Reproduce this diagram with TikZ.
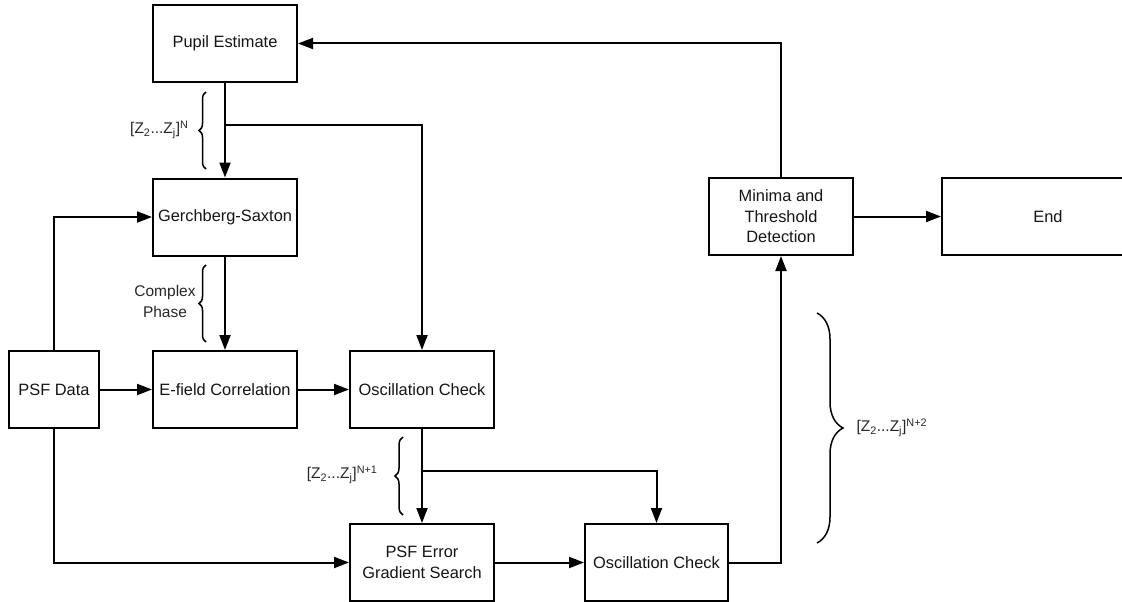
\documentclass[tikz,border=0pt]{standalone}
\usepackage{fontspec}
\setmainfont{Liberation Sans}
\usetikzlibrary{arrows.meta,decorations.pathreplacing,calc}
\begin{document}
\begin{tikzpicture}[x=1pt,y=-1pt,
  box/.style={draw,line width=2pt,minimum width=144pt,minimum height=77pt,inner sep=0pt,align=center,
    font=\fontsize{16.4}{20.5}\selectfont,text=black!92},
  arr/.style={line width=2pt,-{Triangle[length=15pt,width=11pt]}},
  ln/.style={line width=2pt},
  brc/.style={line width=1.5pt,decorate,decoration={brace,amplitude=#1}},
  lbl/.style={font=\fontsize{15.5}{21}\selectfont,text=black!85,align=center}]
\useasboundingbox (0,0) rectangle (1122,602);
\clip (0,0) rectangle (1122,602);
% nodes
\node[box] (pupil) at (225,43.5) {Pupil Estimate};
\node[box] (gs) at (225,217) {Gerchberg-Saxton};
\node[box,minimum width=90pt] (psf) at (54,389.5) {PSF Data};
\node[box] (ef) at (225,389.5) {E-field Correlation};
\node[box] (osc1) at (422,389.5) {Oscillation Check};
\node[box] (pge) at (422,562.5) {PSF Error\\Gradient Search};
\node[box,minimum width=143pt] (osc2) at (656.5,562.5) {Oscillation Check};
\node[box] (mtd) at (781,216.5) {Minima and\\Threshold\\Detection};
\node[box,minimum width=212pt,text width=212pt] (end) at (1048,216.5) {End};
% junctions
\coordinate (b1) at (225,125);
\coordinate (b2) at (422,471);
% connectors
\draw[arr] (pupil.south) -- (gs.north);
\draw[arr] (b1) -| (osc1.north);
\draw[arr] (psf.north) |- (gs.west);
\draw[arr] (gs.south) -- (ef.north);
\draw[arr] (psf.east) -- (ef.west);
\draw[arr] (ef.east) -- (osc1.west);
\draw[arr] (osc1.south) -- (pge.north);
\draw[arr] (b2) -| (osc2.north);
\draw[arr] (psf.south) |- (pge.west);
\draw[arr] (pge.east) -- (osc2.west);
\draw[arr] (osc2.east) -| (mtd.south);
\draw[arr] (mtd.north) |- (pupil.east);
\draw[arr] (mtd.east) -- (end.west);
% braces
\coordinate (br1a) at (206,169);
\coordinate (br1b) at (206,92);
\draw[brc=7pt] (br1a) -- (br1b);
\node[lbl,anchor=east] (l1) at (192,130) {[Z\textsubscript{2}...Z\textsubscript{j}]\textsuperscript{N}};
\coordinate (br2a) at (206,342);
\coordinate (br2b) at (206,265);
\draw[brc=7pt] (br2a) -- (br2b);
\node[lbl] (l2) at (165,301) {Complex\\Phase};
\coordinate (br3a) at (403,515);
\coordinate (br3b) at (403,437);
\draw[brc=8pt] (br3a) -- (br3b);
\node[lbl,anchor=east] (l3) at (381,475) {[Z\textsubscript{2}...Z\textsubscript{j}]\textsuperscript{N+1}};
\coordinate (br4a) at (817,313);
\coordinate (br4b) at (817,543);
\draw[brc=26pt] (br4a) -- (br4b);
\node[lbl,anchor=west] (l4) at (853,428) {[Z\textsubscript{2}...Z\textsubscript{j}]\textsuperscript{N+2}};
\end{tikzpicture}
\end{document}
